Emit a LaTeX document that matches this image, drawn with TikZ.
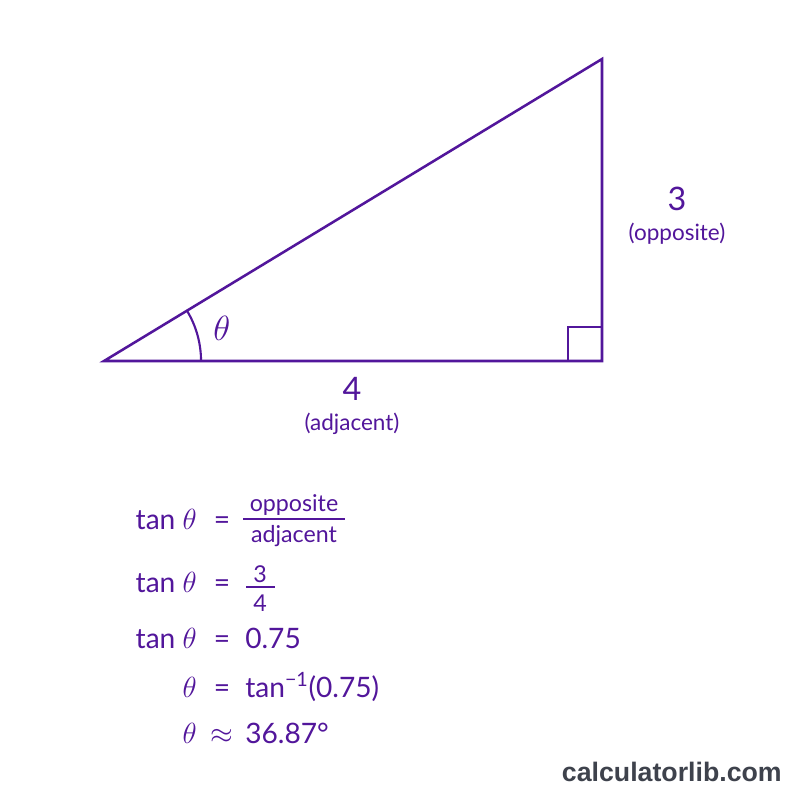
\documentclass[tikz,border=0pt]{standalone}
\usepackage{fontspec}
\setmainfont{Lato}
\newfontfamily\logofont{Liberation Sans}
\usetikzlibrary{angles, quotes, positioning, calc}
\definecolor{trigpurple}{RGB}{82,22,155}
\definecolor{logogray}{RGB}{62,66,76}
\tikzset{
	side/.style={draw=trigpurple, line width=1.8pt, line join=miter}, % triangle sides
	sidelabel/.style={text=trigpurple, font=\fontsize{23}{26}\selectfont},
	sidenote/.style={text=trigpurple, font=\fontsize{16}{19}\selectfont, inner sep=0pt},
	eqtext/.style={text=trigpurple, font=\fontsize{20}{24}\selectfont, inner sep=0pt},
	fracpart/.style={text=trigpurple, font=\fontsize{16.5}{19}\selectfont, inner sep=0pt, anchor=base},
	fracbar/.style={draw=trigpurple, line width=0.9pt},
}

\begin{document}
\begin{tikzpicture}[x=0.025cm, y=-0.025cm]
	\useasboundingbox[fill=white] (0,0) rectangle (800,800);

	% Triangle
	\coordinate (A) at (104,361);
	\coordinate (B) at (602,361);
	\coordinate (C) at (602,59);
	\draw[side] (A) -- (B) -- (C) -- cycle;
	\draw[side, line width=1.5pt] ($(B)+(-34,0)$) -- ++(0,-34) -- ++(34,0);
	\pic[draw=trigpurple, line width=1.5pt, angle radius=2.425cm, angle eccentricity=1.26,
		every pic quotes/.style={text=trigpurple, font=\fontsize{25}{28}\selectfont},
		"$\theta$"] {angle=B--A--C};

	% Side labels
	\node[sidelabel] (opp) at (677,199) {3};
	\node[sidenote, below=5pt of opp] (oppnote) {(opposite)};
	\node[sidelabel] (adj) at (352,389) {4};
	\node[sidenote, below=5pt of adj] (adjnote) {(adjacent)};

	% Equations
	\node[eqtext, anchor=base east] (l1) at (197,529) {tan $\theta$};
	\node[eqtext, anchor=base] (r1) at (222,529) {=};
	\node[fracpart] (n1) at (294,511) {opposite};
	\node[fracpart] (d1) at (294,542) {adjacent};
	\draw[fracbar] (243,519) -- (345,519);

	\node[eqtext, anchor=base east] (l2) at (197,592) {tan $\theta$};
	\node[eqtext, anchor=base] (r2) at (222,592) {=};
	\node[fracpart] (n2) at (260,582) {3};
	\node[fracpart] (d2) at (260,611) {4};
	\draw[fracbar] (246,587) -- (275,587);

	\node[eqtext, anchor=base east] (l3) at (197,648) {tan $\theta$};
	\node[eqtext, anchor=base] (r3) at (222,648) {=};
	\node[eqtext, anchor=base west] (v3) at (245,648) {0.75};

	\node[eqtext, anchor=base east] (l4) at (197,697) {$\theta$};
	\node[eqtext, anchor=base] (r4) at (222,697) {=};
	\node[eqtext, anchor=base west] (v4) at (245,697) {tan\textsuperscript{−1}(0.75)};

	\node[eqtext, anchor=base east] (l5) at (197,743) {$\theta$};
	\node[eqtext, anchor=base] (r5) at (222,743) {$\approx$};
	\node[eqtext, anchor=base west] (v5) at (245,743) {36.87°};

	% Logo
	\node[anchor=base east, inner sep=0pt, text=logogray, font=\logofont\bfseries\fontsize{19}{22}\selectfont]
		(logo) at (782,781) {calculatorlib.com};
\end{tikzpicture}
\end{document}
